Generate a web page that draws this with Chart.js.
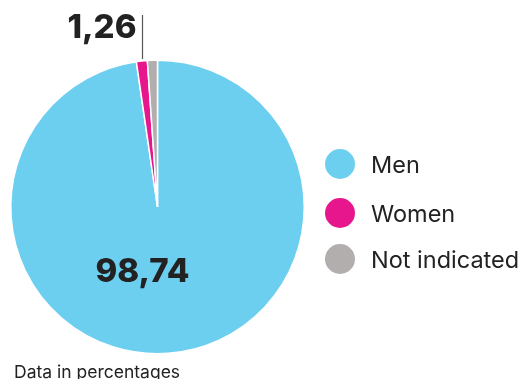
<!DOCTYPE html>
<html><head><meta charset="utf-8">
<script src="https://cdn.jsdelivr.net/npm/chart.js@4/dist/chart.umd.min.js"></script>
<style>html,body{margin:0;padding:0;background:#fff;}#wrap{position:relative;width:524px;height:379px;}</style>
</head><body><div id="wrap"><canvas id="c" width="524" height="379"></canvas></div>
<script>
const categories = ["Men", "Women", "Not indicated"];
// slice sizes as drawn in the picture (small slices are drawn wider than their share)
const values = [97.7, 1.2, 1.1];
const colors = ["#6dcff0", "#e8168c", "#b2aeae"];
const bigLabel = "98,74";
const smallLabel = "1,26";
const footnote = "Data in percentages";

const overlay = {
  id: 'overlay',
  afterDraw(chart) {
    const ctx = chart.ctx;
    const meta = chart.getDatasetMeta(0);
    const arc0 = meta.data[0];
    const cx = arc0.x, cy = arc0.y, r = arc0.outerRadius;
    ctx.save();
    ctx.fillStyle = '#222';
    ctx.textBaseline = 'alphabetic';
    ctx.font = '800 33px Inter, "Liberation Sans", sans-serif';
    ctx.textAlign = 'center';
    ctx.fillText(bigLabel, cx - 15, cy + 75);
    const a1 = meta.data[1];
    const mid = (a1.startAngle + a1.endAngle) / 2;
    const lx = Math.round(cx + Math.cos(mid) * (r + 2)) + 0.5;
    const ly = cy + Math.sin(mid) * (r + 2);
    ctx.strokeStyle = '#555';
    ctx.lineWidth = 1.2;
    ctx.beginPath();
    ctx.moveTo(lx, ly);
    ctx.lineTo(lx, 15);
    ctx.stroke();
    ctx.textAlign = 'right';
    ctx.font = '800 33px Inter, "Liberation Sans", sans-serif';
    ctx.fillText(smallLabel, lx - 6, 38);
    const ys = [164, 213, 259];
    ctx.textAlign = 'left';
    ctx.font = '23.5px Inter, "Liberation Sans", sans-serif';
    categories.forEach((c, i) => {
      ctx.fillStyle = colors[i];
      ctx.beginPath();
      ctx.arc(340, ys[i], 15, 0, Math.PI * 2);
      ctx.fill();
      ctx.fillStyle = '#222';
      ctx.fillText(c, 371, ys[i] + 9);
    });
    ctx.font = '17.5px Inter, "Liberation Sans", sans-serif';
    ctx.fillStyle = '#222';
    ctx.fillText(footnote, 14, 378);
    ctx.restore();
  }
};

new Chart(document.getElementById('c'), {
  type: 'pie',
  data: {
    labels: categories,
    datasets: [{ data: values, backgroundColor: colors, borderColor: '#fff', borderWidth: 1.5, hoverOffset: 0 }]
  },
  options: {
    responsive: false,
    animation: false,
    rotation: 0,
    layout: { padding: { left: 10, top: 59, right: 219, bottom: 24 } },
    plugins: { legend: { display: false }, tooltip: { enabled: false } }
  },
  plugins: [overlay]
});
</script></body></html>
